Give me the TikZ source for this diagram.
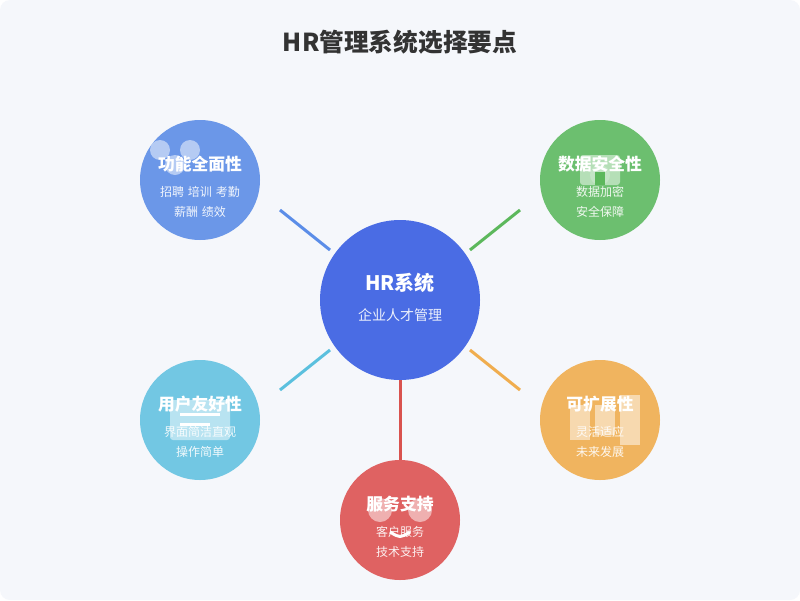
\documentclass[tikz,border=0pt]{standalone}
\usepackage{fontspec}
\setmainfont{Noto Sans CJK SC}
\newfontfamily\subfont[WordSpace=1.4]{Noto Sans CJK SC}
\definecolor{pagebg}{HTML}{F5F7FB}
\definecolor{hubblue}{HTML}{4A6CE4}
\definecolor{funcblue}{HTML}{6B97E8}
\definecolor{safegreen}{HTML}{6CBF6F}
\definecolor{userteal}{HTML}{72C7E3}
\definecolor{growgold}{HTML}{F0B45F}
\definecolor{servred}{HTML}{DF6262}
\definecolor{linkblue}{HTML}{5B8DE8}
\definecolor{linkgreen}{HTML}{5CB85C}
\definecolor{linkteal}{HTML}{5BC0DE}
\definecolor{linkgold}{HTML}{F0AD4E}
\definecolor{linkred}{HTML}{D9534F}
\tikzset{
  hub/.style={circle, fill=hubblue, minimum size=160pt, inner sep=0pt},
  topic/.style={circle, minimum size=120pt, inner sep=0pt},
  link/.style={line width=3pt},
  glyph/.style={fill=white, fill opacity=0.5},
  head/.style={text=white, font=\bfseries\fontsize{16.8}{16.8}\selectfont, inner sep=0pt},
  sub/.style={text=white, text opacity=0.9, font=\subfont\fontsize{12}{12}\selectfont, inner sep=0pt}
}
\begin{document}
\begin{tikzpicture}[x=1pt,y=-1pt]
    \useasboundingbox (0,0) rectangle (800,600);
    \fill[white] (0,0) rectangle (800,600);
    \fill[pagebg, rounded corners=10pt] (0,0) rectangle (800,600);
    \node[text=black!80, font=\bfseries\fontsize{24.7}{24.7}\selectfont, inner sep=0pt] (title) at (400,42) {HR管理系统选择要点};
    % circles
    \node[hub] (hr) at (400,300) {};
    \node[topic, fill=funcblue] (func) at (200,180) {};
    \node[topic, fill=safegreen] (safe) at (600,180) {};
    \node[topic, fill=userteal] (user) at (200,420) {};
    \node[topic, fill=growgold] (grow) at (600,420) {};
    \node[topic, fill=servred] (serv) at (400,520) {};
    % free ends of the links
    \coordinate (funcend) at (280,210);
    \coordinate (hubfunc) at (330,250);
    \coordinate (safeend) at (520,210);
    \coordinate (hubsafe) at (470,250);
    \coordinate (userend) at (280,390);
    \coordinate (hubuser) at (330,350);
    \coordinate (growend) at (520,390);
    \coordinate (hubgrow) at (470,350);
    \draw[link, linkblue] (hubfunc) -- (funcend);
    \draw[link, linkgreen] (hubsafe) -- (safeend);
    \draw[link, linkteal] (hubuser) -- (userend);
    \draw[link, linkgold] (hubgrow) -- (growend);
    \draw[link, linkred] (hr) -- (serv);
    % icons
    \fill[glyph] (160,150) circle (10);
    \fill[glyph] (190,150) circle (10);
    \fill[glyph] (175,165) circle (10);
    \fill[glyph, rounded corners=3pt] (580,155) rectangle (620,185);
    \fill[white, fill opacity=0.2] (600,175) circle (10);
    \fill[linkgreen] (595,172) rectangle (605,185);
    \fill[glyph, rounded corners=3pt] (170,400) rectangle (230,440);
    \fill[white] (180,413) rectangle (220,416);
    \fill[white] (180,423) rectangle (210,426);
    \fill[glyph] (570,405) rectangle (590,440);
    \fill[glyph] (595,405) rectangle (615,435);
    \fill[glyph] (620,395) rectangle (640,445);
    \fill[glyph] (380,510) circle (12);
    \fill[glyph] (420,510) circle (12);
    \draw[white, line width=3pt] (390,532) .. controls (400,538) .. (410,532);
    % texts
    \node[text=white, font=\bfseries\fontsize{20}{20}\selectfont, inner sep=0pt] (hrname) at (400,283) {HR系统};
    \node[sub, font=\fontsize{14}{14}\selectfont] (hrsub) at (400,315) {企业人才管理};
    \node[head] (funcname) at (200,164.5) {功能全面性};
    \node[sub] (funcone) at (200,191.5) {招聘 培训 考勤};
    \node[sub] (functwo) at (200,211.5) {薪酬 绩效};
    \node[head] (safename) at (600,164.5) {数据安全性};
    \node[sub] (safeone) at (600,191.5) {数据加密};
    \node[sub] (safetwo) at (600,211.5) {安全保障};
    \node[head] (username) at (200,404.5) {用户友好性};
    \node[sub] (userone) at (200,431.5) {界面简洁直观};
    \node[sub] (usertwo) at (200,451.5) {操作简单};
    \node[head] (growname) at (600,404.5) {可扩展性};
    \node[sub] (growone) at (600,431.5) {灵活适应};
    \node[sub] (growtwo) at (600,451.5) {未来发展};
    \node[head] (servname) at (400,504.5) {服务支持};
    \node[sub] (servone) at (400,531.5) {客户服务};
    \node[sub] (servtwo) at (400,551.5) {技术支持};
\end{tikzpicture}
\end{document}
